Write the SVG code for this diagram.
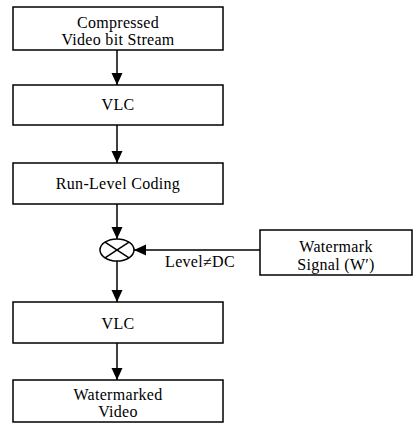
<svg xmlns="http://www.w3.org/2000/svg" width="414" height="423" viewBox="0 0 414 423">
<style>
.box{fill:#fff;stroke:#000;stroke-width:1.5}
.t{font-family:"Liberation Serif","Times New Roman",serif;font-size:16px;fill:#000;text-anchor:middle;letter-spacing:0.3px}
.c{stroke:#000;stroke-width:1.5;fill:none}
</style>
<defs>
<marker id="ah" markerWidth="12" markerHeight="12" refX="12" refY="6" orient="auto" markerUnits="userSpaceOnUse" viewBox="0 0 12 12">
<path d="M0,0.5 L12,6 L0,11.5 Z" fill="#000"/>
</marker>
</defs>
<rect width="414" height="423" fill="#fff"/>
<g id="connectors">
<line class="c" x1="117" y1="50" x2="117" y2="85" marker-end="url(#ah)"/>
<line class="c" x1="117" y1="125" x2="117" y2="163" marker-end="url(#ah)"/>
<line class="c" x1="117" y1="204" x2="117" y2="239" marker-end="url(#ah)"/>
<line class="c" x1="260" y1="250" x2="134" y2="250" marker-end="url(#ah)"/>
<line class="c" x1="117" y1="261" x2="117" y2="302" marker-end="url(#ah)"/>
<line class="c" x1="117" y1="343" x2="117" y2="380" marker-end="url(#ah)"/>
<text class="t" x="200" y="267">Level≠DC</text>
</g>
<g id="compressed">
<rect class="box" x="13" y="7" width="210" height="43"/>
<text class="t" x="118" y="28">Compressed</text>
<text class="t" x="118" y="45">Video bit Stream</text>
</g>
<g id="vlc1">
<rect class="box" x="13" y="85" width="210" height="40"/>
<text class="t" x="118" y="110">VLC</text>
</g>
<g id="runlevel">
<rect class="box" x="13" y="163" width="210" height="41"/>
<text class="t" x="118" y="189">Run-Level Coding</text>
</g>
<g id="multiplier">
<ellipse class="c" cx="117" cy="250" rx="17" ry="11"/>
<line class="c" x1="105" y1="242.2" x2="129" y2="257.8"/>
<line class="c" x1="105" y1="257.8" x2="129" y2="242.2"/>
</g>
<g id="watermark">
<rect class="box" x="260" y="230" width="152" height="45"/>
<text class="t" x="336" y="252">Watermark</text>
<text class="t" x="336" y="270">Signal (W′)</text>
</g>
<g id="vlc2">
<rect class="box" x="13" y="302" width="210" height="41"/>
<text class="t" x="118" y="329">VLC</text>
</g>
<g id="watermarked">
<rect class="box" x="13" y="380" width="210" height="42"/>
<text class="t" x="118" y="400">Watermarked</text>
<text class="t" x="118" y="417">Video</text>
</g>
</svg>
